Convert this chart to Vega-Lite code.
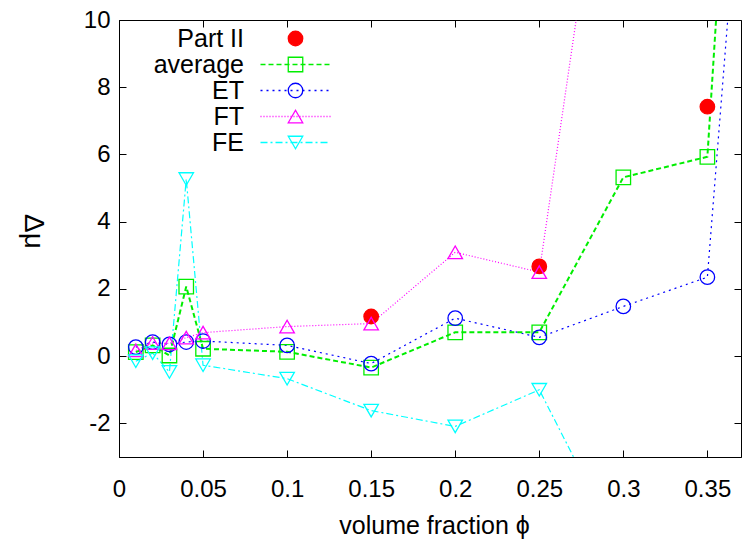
{
  "$schema": "https://vega.github.io/schema/vega-lite/v6.json",
  "width": 622,
  "height": 437,
  "autosize": {"type": "none"},
  "padding": {"left": 119, "top": 20, "right": 2, "bottom": 84},
  "background": "white",
  "config": {
    "view": {"stroke": "black", "strokeWidth": 1},
    "font": "Liberation Sans",
    "axis": {
      "grid": false,
      "labelFont": "Liberation Sans",
      "titleFont": "Liberation Sans",
      "labelColor": "black",
      "titleColor": "black",
      "tickColor": "black",
      "domainColor": "black",
      "titleFontWeight": "normal",
      "labelFlush": false,
      "labelOverlap": false,
      "labelBound": false
    }
  },
  "data": {
    "values": [
      {"series": "Part II", "order": 1, "phi": 0.15, "dmu": 1.18},
      {"series": "Part II", "order": 1, "phi": 0.25, "dmu": 2.67},
      {"series": "Part II", "order": 1, "phi": 0.35, "dmu": 7.42},
      {"series": "average", "order": 2, "phi": 0.01, "dmu": 0.12},
      {"series": "average", "order": 2, "phi": 0.02, "dmu": 0.32},
      {"series": "average", "order": 2, "phi": 0.03, "dmu": 0.02},
      {"series": "average", "order": 2, "phi": 0.04, "dmu": 2.07},
      {"series": "average", "order": 2, "phi": 0.05, "dmu": 0.22},
      {"series": "average", "order": 2, "phi": 0.1, "dmu": 0.13},
      {"series": "average", "order": 2, "phi": 0.15, "dmu": -0.34},
      {"series": "average", "order": 2, "phi": 0.2, "dmu": 0.71},
      {"series": "average", "order": 2, "phi": 0.25, "dmu": 0.71},
      {"series": "average", "order": 2, "phi": 0.3, "dmu": 5.32},
      {"series": "average", "order": 2, "phi": 0.35, "dmu": 5.93},
      {"series": "average", "order": 2, "phi": 0.36, "dmu": 13.8},
      {"series": "ET", "order": 3, "phi": 0.01, "dmu": 0.27},
      {"series": "ET", "order": 3, "phi": 0.02, "dmu": 0.42},
      {"series": "ET", "order": 3, "phi": 0.03, "dmu": 0.35},
      {"series": "ET", "order": 3, "phi": 0.04, "dmu": 0.42},
      {"series": "ET", "order": 3, "phi": 0.05, "dmu": 0.45},
      {"series": "ET", "order": 3, "phi": 0.1, "dmu": 0.32},
      {"series": "ET", "order": 3, "phi": 0.15, "dmu": -0.22},
      {"series": "ET", "order": 3, "phi": 0.2, "dmu": 1.13},
      {"series": "ET", "order": 3, "phi": 0.25, "dmu": 0.56},
      {"series": "ET", "order": 3, "phi": 0.3, "dmu": 1.48},
      {"series": "ET", "order": 3, "phi": 0.35, "dmu": 2.35},
      {"series": "ET", "order": 3, "phi": 0.37, "dmu": 15.0},
      {"series": "FT", "order": 4, "phi": 0.01, "dmu": 0.17},
      {"series": "FT", "order": 4, "phi": 0.02, "dmu": 0.39},
      {"series": "FT", "order": 4, "phi": 0.03, "dmu": 0.38},
      {"series": "FT", "order": 4, "phi": 0.04, "dmu": 0.55},
      {"series": "FT", "order": 4, "phi": 0.05, "dmu": 0.7},
      {"series": "FT", "order": 4, "phi": 0.1, "dmu": 0.88},
      {"series": "FT", "order": 4, "phi": 0.15, "dmu": 0.97},
      {"series": "FT", "order": 4, "phi": 0.2, "dmu": 3.09},
      {"series": "FT", "order": 4, "phi": 0.25, "dmu": 2.5},
      {"series": "FT", "order": 4, "phi": 0.3, "dmu": 19.6},
      {"series": "FE", "order": 5, "phi": 0.01, "dmu": -0.15},
      {"series": "FE", "order": 5, "phi": 0.02, "dmu": 0.09},
      {"series": "FE", "order": 5, "phi": 0.03, "dmu": -0.47},
      {"series": "FE", "order": 5, "phi": 0.04, "dmu": 5.27},
      {"series": "FE", "order": 5, "phi": 0.05, "dmu": -0.27},
      {"series": "FE", "order": 5, "phi": 0.1, "dmu": -0.67},
      {"series": "FE", "order": 5, "phi": 0.15, "dmu": -1.62},
      {"series": "FE", "order": 5, "phi": 0.2, "dmu": -2.09},
      {"series": "FE", "order": 5, "phi": 0.25, "dmu": -1.0},
      {"series": "FE", "order": 5, "phi": 0.3, "dmu": -5.9}
    ]
  },
  "resolve": {"axis": {"x": "independent", "y": "independent"}},
  "layer": [
    {
      "transform": [{"filter": "datum.series !== 'Part II' && datum.series !== 'average'"}],
      "mark": {"type": "line", "clip": true, "strokeWidth": 1.2},
      "encoding": {
        "x": {
          "field": "phi", "type": "quantitative",
          "scale": {"domain": [0, 0.37], "nice": false, "zero": false},
          "axis": {
            "orient": "bottom",
            "values": [0, 0.05, 0.1, 0.15, 0.2, 0.25, 0.3, 0.35],
            "labelExpr": "'' + datum.value",
            "tickSize": -7,
            "labelPadding": 27,
            "labelFontSize": 24,
            "title": "volume fraction ϕ",
            "titleFontSize": 25,
            "titleX": 315,
            "titleY": 76,
            "titleBaseline": "alphabetic",
            "titleAlign": "center"
          }
        },
        "y": {
          "field": "dmu", "type": "quantitative",
          "scale": {"domain": [-3, 10], "nice": false, "zero": false},
          "axis": {
            "orient": "left",
            "values": [-2, 0, 2, 4, 6, 8, 10],
            "labelExpr": "'' + datum.value",
            "tickSize": -7,
            "labelPadding": 16,
            "labelFontSize": 24,
            "title": "Δμ",
            "titleFontSize": 28,
            "titleAngle": 90,
            "titleX": -87,
            "titleY": 211,
            "titleAlign": "center",
            "titleBaseline": "middle"
          }
        },
        "color": {
          "field": "series", "type": "nominal",
          "scale": {"domain": ["Part II", "average", "ET", "FT", "FE"], "range": ["transparent", "#00ee00", "#0000ff", "#ff00ff", "#00ffff"]},
          "legend": {"orient": "none", "legendX": 0, "legendY": 6, "title": null, "symbolType": "M-5,0H5", "symbolSize": 196, "symbolStrokeWidth": 1.5, "rowPadding": 0, "padding": 0, "labelAlign": "right", "labelOffset": -64, "symbolOffset": 164, "labelFontSize": 25, "labelFont": "Liberation Sans", "labelColor": "black", "labelLimit": 300, "labelBaseline": "middle"}
        },
        "strokeDash": {
          "field": "series", "type": "nominal",
          "scale": {"domain": ["Part II", "average", "ET", "FT", "FE"], "range": [[1, 0], [5, 3], [2, 4], [1, 2], [7, 3, 2, 3]]},
          "legend": {"orient": "none", "legendX": 0, "legendY": 6, "title": null, "symbolType": "M-5,0H5", "symbolSize": 196, "symbolStrokeWidth": 1.5, "rowPadding": 0, "padding": 0, "labelAlign": "right", "labelOffset": -64, "symbolOffset": 164, "labelFontSize": 25, "labelFont": "Liberation Sans", "labelColor": "black", "labelLimit": 300, "labelBaseline": "middle"}
        }
      }
    },
    {
      "transform": [{"filter": "datum.series === 'average'"}],
      "mark": {"type": "line", "clip": true, "strokeWidth": 2},
      "encoding": {
        "x": {"field": "phi", "type": "quantitative", "axis": null},
        "y": {"field": "dmu", "type": "quantitative", "axis": null},
        "color": {"field": "series", "type": "nominal"},
        "strokeDash": {"field": "series", "type": "nominal"}
      }
    },
    {
      "mark": {"type": "point", "clip": true, "size": 210, "strokeWidth": 1.3, "opacity": 1},
      "encoding": {
        "x": {
          "field": "phi", "type": "quantitative",
          "axis": {"orient": "top", "values": [0, 0.05, 0.1, 0.15, 0.2, 0.25, 0.3, 0.35], "labels": false, "title": null, "tickSize": -7, "domain": false}
        },
        "y": {
          "field": "dmu", "type": "quantitative",
          "axis": {"orient": "right", "values": [-2, 0, 2, 4, 6, 8, 10], "labels": false, "title": null, "tickSize": -7, "domain": false}
        },
        "shape": {
          "field": "series", "type": "nominal",
          "sort": {"field": "order", "op": "min"},
          "scale": {"range": ["circle", "square", "circle", "triangle-up", "triangle-down"]},
          "legend": {"orient": "none", "legendX": 0, "legendY": 6, "title": null, "symbolSize": 210, "symbolStrokeWidth": 1.3, "rowPadding": 0, "padding": 0, "labelFontSize": 25, "labelOpacity": 0, "symbolOffset": 164}
        },
        "stroke": {
          "field": "series", "type": "nominal",
          "sort": {"field": "order", "op": "min"},
          "scale": {"range": ["#ff0000", "#00ee00", "#0000ff", "#ff00ff", "#00ffff"]},
          "legend": {"orient": "none", "legendX": 0, "legendY": 6, "title": null, "symbolSize": 210, "symbolStrokeWidth": 1.3, "rowPadding": 0, "padding": 0, "labelFontSize": 25, "labelOpacity": 0, "symbolOffset": 164}
        },
        "fill": {
          "field": "series", "type": "nominal",
          "sort": {"field": "order", "op": "min"},
          "scale": {"range": ["#ff0000", "transparent", "transparent", "transparent", "transparent"]},
          "legend": {"orient": "none", "legendX": 0, "legendY": 6, "title": null, "symbolSize": 210, "symbolStrokeWidth": 1.3, "rowPadding": 0, "padding": 0, "labelFontSize": 25, "labelOpacity": 0, "symbolOffset": 164}
        }
      }
    }
  ]
}
